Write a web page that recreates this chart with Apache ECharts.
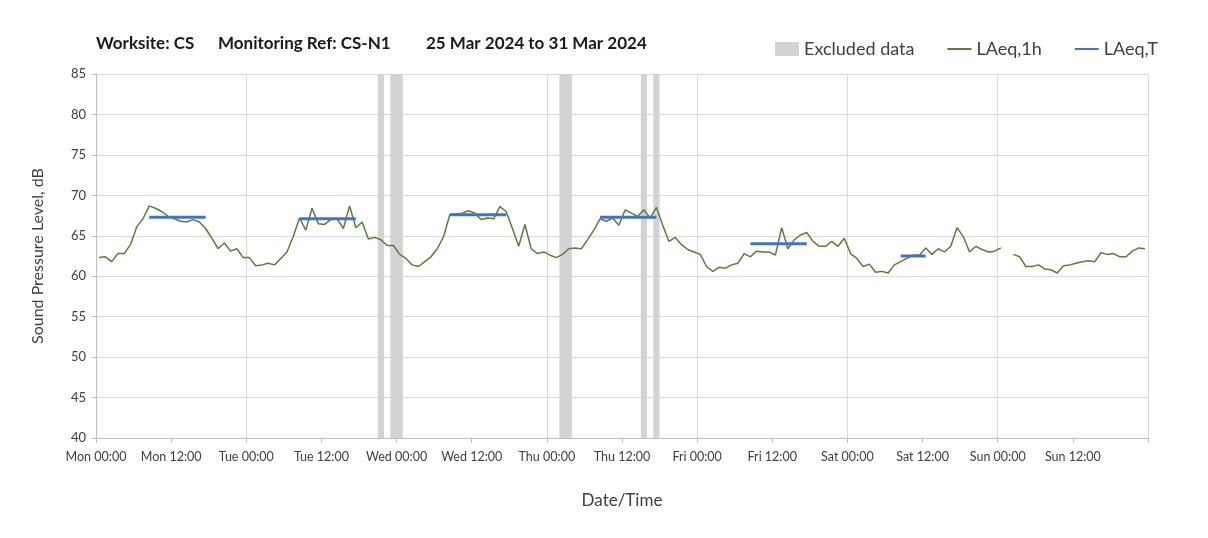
<!DOCTYPE html>
<html>
<head>
<meta charset="utf-8">
<script src="https://cdn.jsdelivr.net/npm/echarts@6/dist/echarts.min.js"></script>
<style>
  html, body { margin: 0; padding: 0; background: #fff; }
  #main { width: 1208px; height: 538px; }
</style>
</head>
<body>
<div id="main"></div>
<script>
// hourly LAeq,1h from Mon 00:00 (index = hour), null = no data
const laeq1h = [
  62.3, 62.4, 61.8, 62.8, 62.8, 63.9, 66.1, 67.1, 68.7, 68.4, 68.0, 67.4,
  67.1, 66.8, 66.7, 67.0, 66.7, 65.9, 64.7, 63.4, 64.1, 63.1, 63.4, 62.3,
  62.3, 61.3, 61.4, 61.6, 61.4, 62.2, 63.0, 64.9, 67.2, 65.7, 68.4, 66.5,
  66.4, 67.0, 67.1, 65.9, 68.7, 66.0, 66.7, 64.6, 64.8, 64.5, 63.8, 63.8,
  62.7, 62.2, 61.4, 61.2, 61.8, 62.4, 63.4, 64.9, 67.6, 67.7, 67.8, 68.1,
  67.8, 67.0, 67.2, 67.1, 68.6, 68.0, 65.9, 63.7, 66.4, 63.4, 62.8, 63.0,
  62.6, 62.3, 62.7, 63.4, 63.5, 63.4, 64.5, 65.7, 67.1, 66.8, 67.2, 66.3,
  68.2, 67.8, 67.4, 68.2, 67.2, 68.5, 66.3, 64.3, 64.8, 63.9, 63.3, 63.0,
  62.7, 61.2, 60.6, 61.1, 61.0, 61.4, 61.6, 62.8, 62.4, 63.1, 63.0, 63.0,
  62.6, 66.0, 63.4, 64.5, 65.1, 65.4, 64.3, 63.7, 63.7, 64.3, 63.7, 64.7,
  62.8, 62.2, 61.2, 61.5, 60.5, 60.6, 60.4, 61.4, 61.8, 62.2, 62.6, 62.6,
  63.5, 62.7, 63.4, 63.0, 63.7, 66.0, 64.9, 63.0, 63.7, 63.3, 63.0, 63.1,
  63.5, null, 62.7, 62.4, 61.2, 61.2, 61.4, 60.9, 60.8, 60.4, 61.3, 61.4,
  61.6, 61.8, 61.9, 61.8, 62.9, 62.7, 62.8, 62.4, 62.4, 63.1, 63.5, 63.4
];

// LAeq,T periods (first and last hour index of each period)
const periodStart = [8, 32, 56, 80, 104, 128];
const periodEnd = [17, 41, 65, 89, 113, 132];
const periodLevel = [67.3, 67.1, 67.6, 67.3, 64.0, 62.5];

// excluded data, hours from Mon 00:00
const exclStart = [45, 47, 74, 87, 89];
const exclEnd = [46, 49, 76, 88, 90];

const tickLabels = [
  'Mon 00:00', 'Mon 12:00', 'Tue 00:00', 'Tue 12:00', 'Wed 00:00', 'Wed 12:00',
  'Thu 00:00', 'Thu 12:00', 'Fri 00:00', 'Fri 12:00', 'Sat 00:00', 'Sat 12:00',
  'Sun 00:00', 'Sun 12:00'
];

const FONT = 'Lato';
const gridColor = '#d9d9d9';
const axisColor = '#bfbfbf';

let myChart = echarts.init(document.getElementById('main'));

let blueSeries = periodStart.map((s, i) => ({
  name: 'LAeq,T',
  type: 'line',
  symbol: 'none',
  silent: true,
  z: 4,
  color: '#4472c4',
  lineStyle: { color: '#4472c4', width: 3 },
  data: [[s + 0.5, periodLevel[i]], [periodEnd[i] + 0.5, periodLevel[i]]]
}));

let titleFont = 'bold 17px ' + FONT;

let option = {
  backgroundColor: '#ffffff',
  animation: false,
  textStyle: { fontFamily: FONT },
  graphic: [
    { type: 'text', left: 96, top: 35, style: { text: 'Worksite: CS', font: titleFont, fill: '#1a1a1a' } },
    { type: 'text', left: 218, top: 35, style: { text: 'Monitoring Ref: CS-N1', font: titleFont, fill: '#1a1a1a' } },
    { type: 'text', left: 426, top: 35, style: { text: '25 Mar 2024 to 31 Mar 2024', font: titleFont, fill: '#1a1a1a' } }
  ],
  legend: {
    top: 35,
    right: 45,
    itemWidth: 24,
    itemHeight: 14,
    itemGap: 32,
    textStyle: { fontSize: 18, color: '#404040', fontFamily: FONT },
    data: [
      { name: 'Excluded data', icon: 'rect' },
      { name: 'LAeq,1h', itemStyle: { opacity: 0 } },
      { name: 'LAeq,T', itemStyle: { opacity: 0 } }
    ]
  },
  grid: { left: 96, right: 60, top: 74, bottom: 100 },
  xAxis: [
    {
      type: 'value',
      min: 0,
      max: 168,
      interval: 12,
      name: 'Date/Time',
      nameLocation: 'middle',
      nameGap: 54,
      nameTextStyle: { fontSize: 17, color: '#404040' },
      axisLine: { lineStyle: { color: axisColor } },
      axisTick: { show: true, length: 5, lineStyle: { color: axisColor } },
      axisLabel: {
        color: '#404040',
        fontSize: 12.5,
        margin: 12,
        formatter: v => tickLabels[Math.round(v / 12)] || ''
      },
      splitLine: { show: false }
    },
    {
      // daily vertical grid lines only
      type: 'value',
      min: 0,
      max: 168,
      interval: 24,
      position: 'bottom',
      axisLine: { show: false },
      axisTick: { show: false },
      axisLabel: { show: false },
      splitLine: { show: true, lineStyle: { color: gridColor } }
    }
  ],
  yAxis: [
    {
      type: 'value',
      min: 40,
      max: 85,
      interval: 5,
      name: 'Sound Pressure Level, dB',
      nameLocation: 'middle',
      nameGap: 50,
      nameTextStyle: { fontSize: 16, color: '#404040' },
      axisLine: { show: true, lineStyle: { color: axisColor } },
      axisTick: { show: true, length: 4, lineStyle: { color: axisColor } },
      axisLabel: { color: '#404040', fontSize: 13, margin: 10 },
      splitLine: { show: true, lineStyle: { color: gridColor } }
    },
    {
      type: 'value',
      min: 40,
      max: 85,
      position: 'right',
      axisLine: { show: true, lineStyle: { color: axisColor } },
      axisTick: { show: false },
      axisLabel: { show: false },
      splitLine: { show: false }
    }
  ],
  series: [
    {
      name: 'Excluded data',
      type: 'bar',
      color: '#d3d3d3',
      data: [],
      markArea: {
        silent: true,
        itemStyle: { color: '#d3d3d3', opacity: 1 },
        data: exclStart.map((s, i) => [{ xAxis: s }, { xAxis: exclEnd[i] }])
      }
    },
    {
      name: 'LAeq,1h',
      type: 'line',
      symbol: 'none',
      z: 3,
      color: '#5a7d3c',
      lineStyle: { color: '#5a7d3c', width: 1.5 },
      data: laeq1h.map((v, i) => [i + 0.5, v])
    },
    ...blueSeries
  ]
};

myChart.setOption(option);
</script>
</body>
</html>
